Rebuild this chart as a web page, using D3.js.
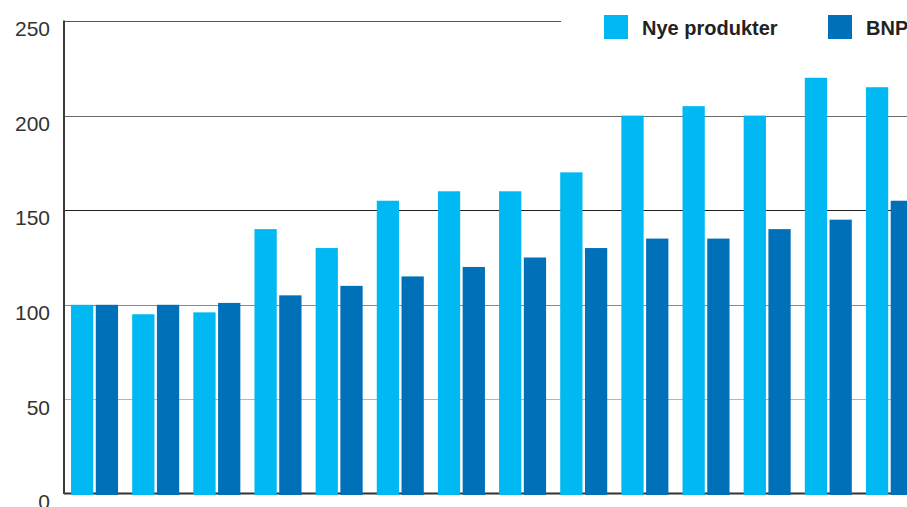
<!DOCTYPE html>
<html>
<head>
<meta charset="utf-8">
<script src="https://cdn.jsdelivr.net/npm/d3@7/dist/d3.min.js"></script>
<style>
  html, body { margin: 0; padding: 0; background: #fff; }
  svg { display: block; }
  text { font-family: "Liberation Sans", Arial, Helvetica, sans-serif; }
</style>
</head>
<body>
<svg id="chart" width="907" height="507"></svg>
<script>
// Index values (start = 100) for each period
const periods = ["1", "2", "3", "4", "5", "6", "7", "8", "9", "10", "11", "12", "13", "14"];
const nyeProdukter = [100, 95, 96, 140, 130, 155, 160, 160, 170, 200, 205, 200, 220, 215];
const bnp = [100, 100, 101, 105, 110, 115, 120, 125, 130, 135, 135, 140, 145, 155];
const seriesNames = ["Nye produkter", "BNP"];
const yTicks = [0, 50, 100, 150, 200, 250];

const colors = { "Nye produkter": "#00b9f2", "BNP": "#0071b9" };

const svg = d3.select("#chart");
const W = 907;
const plotLeft = 64, plotTop = 21, plotBottom = 494;

const y = d3.scaleLinear().domain([0, 250]).range([plotBottom, plotTop]);

const x0 = d3.scaleBand()
  .domain(periods)
  .range([plotLeft, 920])
  .paddingInner(0.231)
  .paddingOuter(0.115);

const x1 = d3.scaleBand()
  .domain(seriesNames)
  .range([0, x0.bandwidth()])
  .paddingInner(0.1);

const rows = periods.map((p, i) => ({
  period: p,
  values: [
    { name: "Nye produkter", value: nyeProdukter[i] },
    { name: "BNP", value: bnp[i] }
  ]
}));

// Horizontal gridlines (top one stops before the legend)
const gridColor = { 50: "#b5b5b5", 100: "#8a8a8a", 150: "#222", 200: "#6a6a6a", 250: "#555" };
svg.append("g")
  .selectAll("line")
  .data(yTicks.filter(t => t > 0))
  .join("line")
  .attr("x1", plotLeft)
  .attr("x2", d => d === 250 ? 561 : W)
  .attr("y1", d => Math.round(y(d)) + 0.5)
  .attr("y2", d => Math.round(y(d)) + 0.5)
  .attr("stroke", d => gridColor[d])
  .attr("stroke-width", 1.2);

// Bottom baseline
svg.append("line")
  .attr("x1", plotLeft).attr("x2", W)
  .attr("y1", y(0) - 0.5).attr("y2", y(0) - 0.5)
  .attr("stroke", "#333").attr("stroke-width", 2);

// Bars
const groups = svg.append("g")
  .selectAll("g")
  .data(rows)
  .join("g")
  .attr("transform", d => `translate(${x0(d.period)},0)`);

groups.selectAll("rect")
  .data(d => d.values)
  .join("rect")
  .attr("x", d => x1(d.name))
  .attr("width", x1.bandwidth())
  .attr("y", d => y(d.value))
  .attr("height", d => y(0) - y(d.value) + 1)
  .attr("fill", d => colors[d.name]);

// Left axis line
svg.append("line")
  .attr("x1", plotLeft).attr("x2", plotLeft)
  .attr("y1", plotTop - 0.5).attr("y2", plotBottom)
  .attr("stroke", "#3a3a3a").attr("stroke-width", 2);

// Y tick labels (sit just below their gridline)
const yAxis = d3.axisLeft(y).tickValues(yTicks).tickSize(0).tickPadding(14);
const gAxis = svg.append("g")
  .attr("transform", `translate(${plotLeft},8)`)
  .call(yAxis);
gAxis.select(".domain").remove();
gAxis.selectAll("text")
  .attr("font-family", "'Liberation Sans', Arial, sans-serif")
  .attr("font-size", 21)
  .attr("fill", "#333");

// Legend
const legendX = [604, 828];
const legend = svg.append("g")
  .selectAll("g")
  .data(seriesNames)
  .join("g")
  .attr("transform", (d, i) => `translate(${legendX[i]},15)`);

legend.append("rect")
  .attr("width", 24).attr("height", 24)
  .attr("fill", d => colors[d]);

legend.append("text")
  .attr("x", 38)
  .attr("y", 20)
  .attr("font-size", 20)
  .attr("font-weight", "bold")
  .attr("fill", "#222")
  .text(d => d);
</script>
</body>
</html>
